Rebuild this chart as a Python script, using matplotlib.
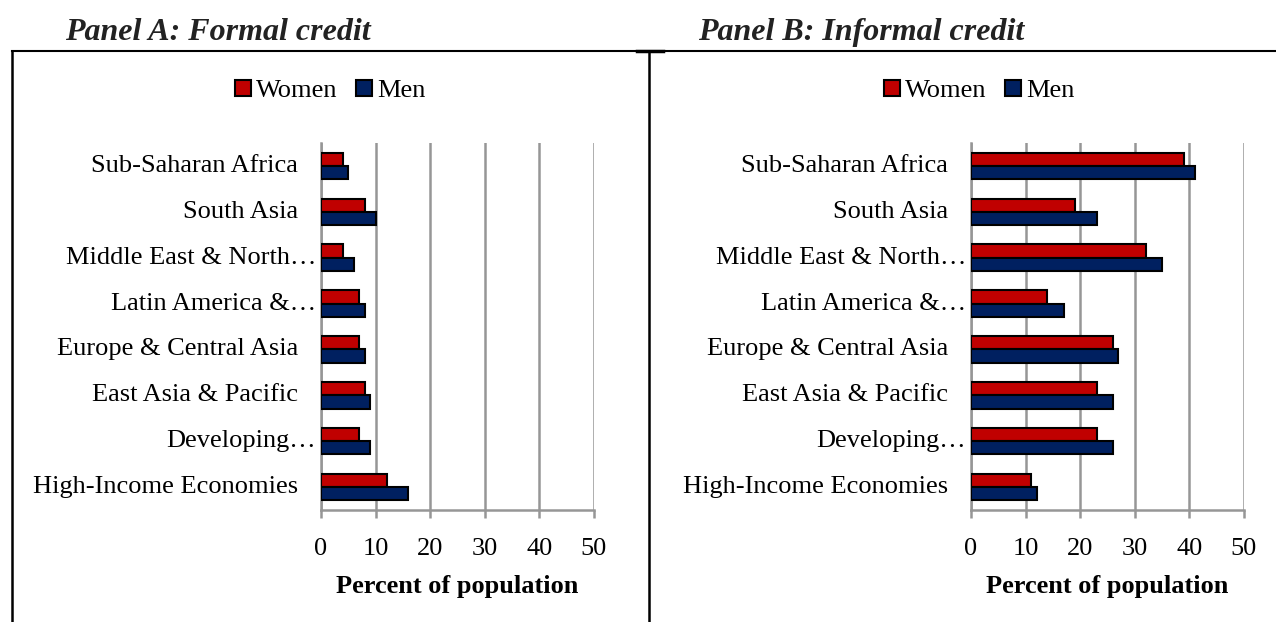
import matplotlib.pyplot as plt
from matplotlib.lines import Line2D
from matplotlib.patches import Patch
from matplotlib.transforms import ScaledTranslation

# Data (top to bottom as shown)
regions = ['Sub-Saharan Africa', 'South Asia', 'Middle East & North\u2026',
           'Latin America &\u2026', 'Europe & Central Asia', 'East Asia & Pacific',
           'Developing\u2026', 'High-Income Economies']
truncated = [False, False, True, True, False, False, True, False]

formal_women = [4, 8, 4, 7, 7, 8, 7, 12]
formal_men = [5, 10, 6, 8, 8, 9, 9, 16]
informal_women = [39, 19, 32, 14, 26, 23, 23, 11]
informal_men = [41, 23, 35, 17, 27, 26, 26, 12]

x_ticks = [0, 10, 20, 30, 40, 50]

women_color = '#C00000'
men_color = '#002060'
grid_color = '#969696'

plt.rcParams['font.family'] = ['Liberation Serif', 'DejaVu Serif']
plt.rcParams['font.size'] = 19

W, H = 1276, 622
fig = plt.figure(figsize=(W / 100, H / 100), dpi=100)


def fx(px):
    return px / W


def fy(py):
    return 1 - py / H


def draw_panel(left_px, women, men):
    ax = fig.add_axes([fx(left_px), fy(510), fx(273), (510 - 143) / H])
    pos = list(range(len(regions)))
    h = 0.29
    ax.barh([p - h / 2 for p in pos], women, height=h, color=women_color,
            edgecolor='black', linewidth=1.5, zorder=3)
    ax.barh([p + h / 2 for p in pos], men, height=h, color=men_color,
            edgecolor='black', linewidth=1.5, zorder=3)
    ax.set_ylim(len(regions) - 0.5, -0.5)
    ax.set_xlim(0, 50)
    ax.set_xticks(x_ticks)
    ax.set_yticks([])
    ax.grid(axis='x', color=grid_color, linewidth=1.8, zorder=0)
    ax.set_axisbelow(True)
    for s in ['top', 'right']:
        ax.spines[s].set_visible(False)
    for s in ['left', 'bottom']:
        ax.spines[s].set_color(grid_color)
        ax.spines[s].set_linewidth(1.8)
    ax.tick_params(axis='x', direction='out', length=6, width=1.8,
                   color=grid_color, pad=14, labelsize=19)
    ax.set_xlabel('Percent of population', fontweight='bold', labelpad=11)

    # category labels
    for p, name, tr in zip(pos, regions, truncated):
        dx = -23 if not tr else -5
        off = ScaledTranslation(dx / 100, 0, fig.dpi_scale_trans)
        ax.text(0, p, name, transform=ax.get_yaxis_transform() + off,
                ha='right', va='center', fontsize=19)
    return ax


draw_panel(321, formal_women, formal_men)
draw_panel(971, informal_women, informal_men)

# Panel titles
fig.text(fx(65), fy(40), 'Panel A: Formal credit', fontsize=23,
         fontweight='bold', fontstyle='italic', va='baseline', color='#222222')
fig.text(fx(698), fy(40), 'Panel B: Informal credit', fontsize=23,
         fontweight='bold', fontstyle='italic', va='baseline', color='#222222')

# Legends
handles = [Patch(facecolor=women_color, edgecolor='black', linewidth=1.5),
           Patch(facecolor=men_color, edgecolor='black', linewidth=1.5)]
for cx in [330, 979]:
    fig.legend(handles, ['Women', 'Men'], loc='center',
               bbox_to_anchor=(fx(cx), fy(91)), ncol=2, frameon=False,
               handlelength=0.6, handleheight=0.6, handletextpad=0.2,
               columnspacing=0.7, borderpad=0, fontsize=19)

# Frame lines
fig.add_artist(Line2D([fx(12), 1], [fy(51), fy(51)], color='black', lw=1.5))
fig.add_artist(Line2D([fx(12), fx(12)], [fy(51), 0], color='black', lw=1.8))
fig.add_artist(Line2D([fx(649), fx(649)], [fy(51), 0], color='black', lw=1.8))
fig.add_artist(Line2D([fx(637), fx(663)], [fy(51), fy(51)], color='black', lw=2.5))

fig.savefig('out.png', dpi=100)
